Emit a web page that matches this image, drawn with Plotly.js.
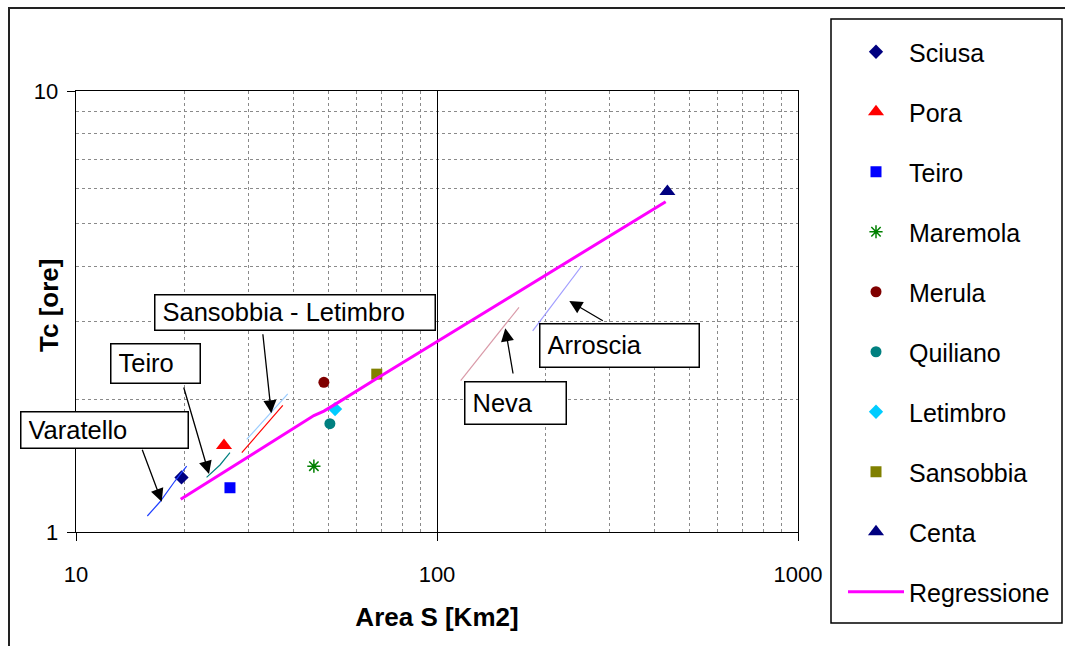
<!DOCTYPE html>
<html>
<head>
<meta charset="utf-8">
<script src="https://cdn.plot.ly/plotly-3.0.1.min.js"></script>
<style>
html,body{margin:0;padding:0;background:#fff;}
#chart{width:1065px;height:646px;}
</style>
</head>
<body>
<div id="chart"></div>
<script>
// ---- data ----
const stationNames = ["Sciusa","Pora","Teiro","Maremola","Merula","Quiliano","Letimbro","Sansobbia","Centa"];
const stationArea = [19.6, 25.7, 26.7, 45.6, 48.6, 50.5, 52.2, 68.1, 434.7];
const stationTc   = [1.33, 1.57, 1.26, 1.41, 2.185, 1.76, 1.90, 2.28, 5.92];

const regrArea = [19.5, 25.7, 26.7, 45.6, 48.6, 50.5, 52.2, 68.8, 430];
const regrTc   = [1.186, 1.369, 1.396, 1.837, 1.88, 1.915, 1.947, 2.24, 5.61];

const varatelloArea = [15.76, 17.09, 18.8, 20.26];
const varatelloTc   = [1.087, 1.171, 1.305, 1.41];
const teiroLineArea = [23.0, 25.05, 26.7];
const teiroLineTc   = [1.33, 1.419, 1.513];
const sansobbiaLineArea = [28.8, 37.4];
const sansobbiaLineTc   = [1.513, 1.937];
const letimbroLineArea = [29.7, 38.6];
const letimbroLineTc   = [1.622, 2.056];
const nevaArea = [116.3, 168.7];
const nevaTc   = [2.203, 3.233];
const arrosciaArea = [184.1, 251.6];
const arrosciaTc   = [2.857, 4.01];

const xTickVals = [10, 100, 1000];
const xTickText = ["10", "100", "1000"];
const yTickVals = [1, 10];
const yTickText = ["1", "10"];
const xMinor = [20,30,40,50,60,70,80,90,200,300,400,500,600,700,800,900];
const yMinor = [2,3,4,5,6,7,8,9];

// ---- styles ----
const markerStyles = [
  {symbol:"diamond", color:"#000080", size:11},
  {symbol:"triangle-up", color:"#FF0000", size:14},
  {symbol:"square", color:"#0000FF", size:11},
  {symbol:"asterisk-open", color:"#008000", size:11, line:{color:"#008000", width:1.5}},
  {symbol:"circle", color:"#800000", size:11},
  {symbol:"circle", color:"#008080", size:11},
  {symbol:"diamond", color:"#00CCFF", size:11},
  {symbol:"square", color:"#808000", size:11},
  {symbol:"triangle-up", color:"#000080", size:14}
];

const FONT = "Liberation Sans, Arial, sans-serif";
const W = 1065, H = 646;
const L = 76, R = 798, T = 91, B = 532;
const xp = px => (px - L) / (R - L);
const yp = py => (B - py) / (B - T);

const traces = [];
stationNames.forEach((n, i) => {
  const s = markerStyles[i];
  traces.push({
    type: "scatter", mode: "markers", name: n,
    x: [stationArea[i]], y: [stationTc[i]],
    legendgroup: "g" + i,
    marker: {symbol: s.symbol, color: s.color, size: s.size, line: s.line || {width: 0}}
  });
});
traces.push({type:"scatter", mode:"lines", name:"Regressione", x: regrArea, y: regrTc,
  legendgroup:"g9", line:{color:"#FF00FF", width:3}});

const segs = [
  [varatelloArea, varatelloTc, "#1F3FFF"],
  [teiroLineArea, teiroLineTc, "#008080"],
  [sansobbiaLineArea, sansobbiaLineTc, "#FF0000"],
  [letimbroLineArea, letimbroLineTc, "#99CCFF"],
  [nevaArea, nevaTc, "#D99AA8"],
  [arrosciaArea, arrosciaTc, "#A09CFF"]
];
segs.forEach(s => traces.push({type:"scatter", mode:"lines", x:s[0], y:s[1], showlegend:false,
  hoverinfo:"skip", line:{color:s[2], width:1.2}}));

// label boxes (pixel geometry)
const boxes = [
  {text:"Varatello", x0:20, x1:187, y0:411, y1:447},
  {text:"Teiro", x0:110, x1:199, y0:343, y1:382},
  {text:"Sansobbia - Letimbro", x0:154, x1:434, y0:294, y1:329},
  {text:"Neva", x0:464, x1:565, y0:381, y1:423},
  {text:"Arroscia", x0:539, x1:698, y0:323, y1:366}
];
const arrows = [
  {tx:141.7, ty:448.3, hx:161.7, hy:501.7},
  {tx:183.3, ty:386, hx:209, hy:474},
  {tx:262.7, ty:332.7, hx:271.3, hy:413.3},
  {tx:513.3, ty:375, hx:505.3, hy:328.3},
  {tx:604.3, ty:321.7, hx:569.3, hy:301}
];
const pad = 7;
const annotations = [];
boxes.forEach(b => annotations.push({
  xref:"paper", yref:"paper", x: xp(b.x0), y: yp(b.y0), xanchor:"left", yanchor:"top",
  text: b.text, showarrow:false, align:"left", valign:"middle",
  width: b.x1 - b.x0 - 2*pad - 1.5, height: b.y1 - b.y0 - 2*pad - 1.5,
  borderpad: pad, bordercolor:"#000", borderwidth:1.5, bgcolor:"#fff",
  font:{family:FONT, size:25.5, color:"#000"}
}));
arrows.forEach(a => annotations.push({
  xref:"paper", yref:"paper", x: xp(a.hx), y: yp(a.hy), text:"",
  showarrow:true, ax: a.tx - a.hx, ay: a.ty - a.hy, axref:"pixel", ayref:"pixel",
  arrowhead:2, arrowsize:2, arrowwidth:1.3, arrowcolor:"#000", standoff:0
}));
// y axis title
annotations.push({xref:"paper", yref:"paper", x: xp(49), y: yp(306), xanchor:"center", yanchor:"middle",
  text:"<b>Tc [ore]</b>", textangle:-90, showarrow:false, font:{family:FONT, size:26, color:"#000"}});

const shapes = [
  {type:"rect", xref:"paper", yref:"paper", x0: xp(9), x1: xp(1075), y0: yp(8), y1: yp(660),
   line:{color:"#222", width:2}, layer:"below"},
  {type:"rect", xref:"paper", yref:"paper", x0: xp(831), x1: xp(1062), y0: yp(19), y1: yp(623),
   line:{color:"#000", width:1.5}}
];

const axisCommon = {
  type:"log", showline:true, mirror:true, linecolor:"#000", linewidth:1.3,
  showgrid:true, gridcolor:"#000", gridwidth:1, zeroline:false,
  ticks:"outside", ticklen:8, tickcolor:"#000", tickwidth:1,
  tickfont:{family:FONT, size:22, color:"#000"}, tickmode:"array", automargin:false
};

const layout = {
  width:W, height:H,
  margin:{l:L, r:W-R, t:T, b:H-B, pad:0, autoexpand:false},
  paper_bgcolor:"#fff", plot_bgcolor:"#fff",
  font:{family:FONT, color:"#000"},
  xaxis: Object.assign({}, axisCommon, {
    range:[1,3], tickvals:xTickVals, ticktext:xTickText, ticklabelstandoff:14,
    minor:{tickmode:"array", tickvals:xMinor, showgrid:true, gridcolor:"#8a8a8a", griddash:"dot", gridwidth:1, ticks:""},
    title:{text:"<b>Area S [Km2]</b>", font:{family:FONT, size:26, color:"#000"}, standoff:22}
  }),
  yaxis: Object.assign({}, axisCommon, {
    range:[0,1], tickvals:yTickVals, ticktext:yTickText, ticklabelstandoff:4,
    minor:{tickmode:"array", tickvals:yMinor, showgrid:true, gridcolor:"#8a8a8a", griddash:"dot", gridwidth:1, ticks:""}
  }),
  showlegend:true,
  legend:{x: xp(843), y: yp(29), xanchor:"left", yanchor:"top", bgcolor:"rgba(0,0,0,0)",
    borderwidth:0, font:{family:FONT, size:25, color:"#000"}, tracegroupgap:24.5,
    traceorder:"grouped", itemwidth:56, maxheight:640},
  annotations: annotations,
  shapes: shapes
};

Plotly.newPlot("chart", traces, layout, {displayModeBar:false, staticPlot:true});
</script>
</body>
</html>
